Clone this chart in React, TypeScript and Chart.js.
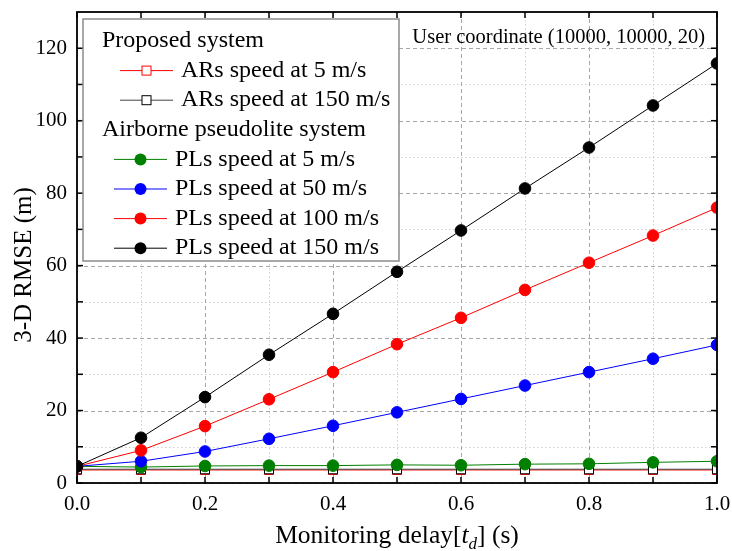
import React, { useEffect, useRef } from 'react';
import { Chart, registerables } from 'chart.js';

Chart.register(...registerables);

// ---- data ----
const delays = [0, 0.1, 0.2, 0.3, 0.4, 0.5, 0.6, 0.7, 0.8, 0.9, 1.0];
const arsSpeed5 = [3.6, 3.6, 3.6, 3.6, 3.6, 3.6, 3.6, 3.6, 3.6, 3.6, 3.6];
const arsSpeed150 = [3.8, 3.8, 3.8, 3.8, 3.8, 3.8, 3.8, 3.8, 3.8, 3.8, 3.8];
const plsSpeed5 = [4.6, 4.4, 4.7, 4.8, 4.8, 5.0, 4.9, 5.2, 5.3, 5.7, 6.0];
const plsSpeed50 = [4.6, 6.0, 8.7, 12.2, 15.8, 19.5, 23.2, 26.9, 30.6, 34.3, 38.1];
const plsSpeed100 = [4.6, 9.0, 15.7, 23.1, 30.6, 38.3, 45.6, 53.3, 60.8, 68.3, 76.0];
const plsSpeed150 = [4.6, 12.5, 23.7, 35.4, 46.7, 58.3, 69.7, 81.3, 92.6, 104.2, 115.8];

const xMajorTicks = [0, 0.2, 0.4, 0.6, 0.8, 1.0];
const xMinorTicks = [0.1, 0.3, 0.5, 0.7, 0.9];
const yMajorTicks = [0, 20, 40, 60, 80, 100, 120];
const yMinorTicks = [10, 30, 50, 70, 90, 110];

const xTitleParts = ['Monitoring delay[', 't', 'd', '] (s)'];
const yTitle = '3-D RMSE (m)';
const annotationText = 'User coordinate (10000, 10000, 20)';
const legendHeaderProposed = 'Proposed system';
const legendHeaderAirborne = 'Airborne pseudolite system';

const SERIF = '"Liberation Serif", "Times New Roman", serif';

type SeriesDef = { label: string; values: number[]; color: string; square: boolean; lineColor: string };

const seriesDefs: SeriesDef[] = [
  { label: 'ARs speed at 5 m/s', values: arsSpeed5, color: '#ff0000', lineColor: '#ff0000', square: true },
  { label: 'ARs speed at 150 m/s', values: arsSpeed150, color: '#000000', lineColor: '#444444', square: true },
  { label: 'PLs speed at 5 m/s', values: plsSpeed5, color: '#008000', lineColor: '#008000', square: false },
  { label: 'PLs speed at 50 m/s', values: plsSpeed50, color: '#0000ff', lineColor: '#0000ff', square: false },
  { label: 'PLs speed at 100 m/s', values: plsSpeed100, color: '#ff0000', lineColor: '#ff0000', square: false },
  { label: 'PLs speed at 150 m/s', values: plsSpeed150, color: '#000000', lineColor: '#000000', square: false },
];

function line(ctx: CanvasRenderingContext2D, x1: number, y1: number, x2: number, y2: number) {
  ctx.beginPath();
  ctx.moveTo(x1, y1);
  ctx.lineTo(x2, y2);
  ctx.stroke();
}

const decorPlugin = {
  id: 'decor',
  beforeDatasetsDraw(chart: any) {
    const { ctx, chartArea: a, scales } = chart;
    const x = scales.x;
    const y = scales.y;
    ctx.save();
    ctx.lineWidth = 1;
    // minor grid (dotted)
    ctx.strokeStyle = '#cfcfcf';
    ctx.setLineDash([1.5, 2.5]);
    for (const v of xMinorTicks) {
      const px = Math.round(x.getPixelForValue(v)) + 0.5;
      line(ctx, px, a.top, px, a.bottom);
    }
    for (const v of yMinorTicks) {
      const py = Math.round(y.getPixelForValue(v)) + 0.5;
      line(ctx, a.left, py, a.right, py);
    }
    // major grid (dashed)
    ctx.strokeStyle = '#a8a8a8';
    ctx.setLineDash([4, 3]);
    for (const v of xMajorTicks) {
      const px = Math.round(x.getPixelForValue(v)) + 0.5;
      line(ctx, px, a.top, px, a.bottom);
    }
    for (const v of yMajorTicks) {
      const py = Math.round(y.getPixelForValue(v)) + 0.5;
      line(ctx, a.left, py, a.right, py);
    }
    ctx.restore();
  },
  afterDatasetsDraw(chart: any) {
    const { ctx, chartArea: a, scales } = chart;
    const x = scales.x;
    const y = scales.y;
    ctx.save();
    // frame
    ctx.strokeStyle = '#000';
    ctx.lineWidth = 1.8;
    ctx.setLineDash([]);
    ctx.strokeRect(a.left, a.top, a.right - a.left, a.bottom - a.top);
    // ticks (inward, all sides)
    ctx.lineWidth = 1.5;
    const len = 6;
    for (const v of [...xMajorTicks, ...xMinorTicks]) {
      const px = x.getPixelForValue(v);
      line(ctx, px, a.bottom, px, a.bottom - len);
      line(ctx, px, a.top, px, a.top + len);
    }
    for (const v of [...yMajorTicks, ...yMinorTicks]) {
      const py = y.getPixelForValue(v);
      line(ctx, a.left, py, a.left + len, py);
      line(ctx, a.right, py, a.right - len, py);
    }

    // annotation
    ctx.fillStyle = '#000';
    ctx.font = `20.5px ${SERIF}`;
    ctx.textAlign = 'right';
    ctx.textBaseline = 'middle';
    ctx.fillText(annotationText, a.right - 12, a.top + 26);

    // legend box
    const bx = a.left + 6;
    const by = a.top + 7;
    const bw = 316;
    const bh = 242;
    ctx.fillStyle = '#fff';
    ctx.fillRect(bx, by, bw, bh);
    ctx.strokeStyle = '#8c8c8c';
    ctx.lineWidth = 1.5;
    ctx.strokeRect(bx, by, bw, bh);

    ctx.font = `24px ${SERIF}`;
    ctx.textAlign = 'left';
    ctx.textBaseline = 'middle';
    const rowY = (i: number) => by + 22 + i * 29.6;
    const drawHeader = (txt: string, i: number) => {
      ctx.fillStyle = '#000';
      ctx.fillText(txt, bx + 19, rowY(i));
    };
    drawHeader(legendHeaderProposed, 0);
    drawHeader(legendHeaderAirborne, 3);
    const rows = [1, 2, 4, 5, 6, 7];
    seriesDefs.forEach((s, k) => {
      const ry = rowY(rows[k]);
      const x0 = s.square ? bx + 37 : bx + 31;
      const x1 = x0 + 53;
      const cx = (x0 + x1) / 2;
      ctx.strokeStyle = s.lineColor;
      ctx.lineWidth = 1;
      line(ctx, x0, ry, x1, ry);
      if (s.square) {
        ctx.fillStyle = '#fff';
        ctx.fillRect(cx - 4.5, ry - 4.5, 9, 9);
        ctx.strokeStyle = s.color;
        ctx.strokeRect(cx - 4.5, ry - 4.5, 9, 9);
      } else {
        ctx.fillStyle = s.color;
        ctx.beginPath();
        ctx.arc(cx, ry, 6, 0, Math.PI * 2);
        ctx.fill();
      }
      ctx.fillStyle = '#000';
      ctx.fillText(s.label, x1 + 8, ry);
    });

    // y title
    ctx.save();
    ctx.font = `25px ${SERIF}`;
    ctx.fillStyle = '#000';
    ctx.textAlign = 'center';
    ctx.textBaseline = 'middle';
    ctx.translate(24, 265);
    ctx.rotate(-Math.PI / 2);
    ctx.fillText(yTitle, 0, 0);
    ctx.restore();

    // x title with italic t and subscript d
    const fN = `25.5px ${SERIF}`;
    const fI = `italic 25.5px ${SERIF}`;
    const fS = `italic 17px ${SERIF}`;
    ctx.textBaseline = 'alphabetic';
    ctx.textAlign = 'left';
    const parts = [
      { t: xTitleParts[0], f: fN, dy: 0 },
      { t: xTitleParts[1], f: fI, dy: 0 },
      { t: xTitleParts[2], f: fS, dy: 6 },
      { t: xTitleParts[3], f: fN, dy: 0 },
    ];
    let total = 0;
    for (const p of parts) {
      ctx.font = p.f;
      total += ctx.measureText(p.t).width;
    }
    let tx = (a.left + a.right) / 2 - total / 2;
    const baseY = 543;
    for (const p of parts) {
      ctx.font = p.f;
      ctx.fillText(p.t, tx, baseY + p.dy);
      tx += ctx.measureText(p.t).width;
    }
    ctx.restore();
  },
};

export default function App() {
  const ref = useRef<HTMLCanvasElement | null>(null);
  useEffect(() => {
    document.body.style.margin = '0';
    const canvas = ref.current;
    if (!canvas) return;
    const n = seriesDefs.length;
    const chart = new Chart(canvas, {
      type: 'line',
      data: {
        datasets: seriesDefs.map((s, i) => ({
          label: s.label,
          data: delays.map((d, j) => ({ x: d, y: s.values[j] })),
          borderColor: s.lineColor,
          borderWidth: 1,
          backgroundColor: s.square ? '#ffffff' : s.color,
          pointBackgroundColor: s.square ? '#ffffff' : s.color,
          pointBorderColor: s.color,
          pointBorderWidth: 1,
          pointStyle: s.square ? 'rect' : 'circle',
          pointRadius: s.square ? 6.4 : 5.8,
          pointHoverRadius: s.square ? 6.4 : 5.8,
          tension: 0,
          fill: false,
          order: n - i,
        })),
      },
      options: {
        responsive: false,
        animation: false,
        events: [],
        layout: { padding: { top: 12, right: 15, left: 0, bottom: 0 } },
        plugins: { legend: { display: false }, tooltip: { enabled: false }, title: { display: false } },
        scales: {
          x: {
            type: 'linear',
            min: 0,
            max: 1,
            grid: { display: false, drawTicks: false },
            border: { display: false },
            ticks: {
              stepSize: 0.2,
              padding: 9,
              color: '#000',
              font: { family: SERIF, size: 21 },
              maxRotation: 0,
              callback: (v: any) => Number(v).toFixed(1),
            },
            afterFit: (scale: any) => {
              scale.height = 68;
              scale.paddingLeft = 0;
              scale.paddingRight = 0;
            },
          },
          y: {
            type: 'linear',
            min: 0,
            max: 130,
            grid: { display: false, drawTicks: false },
            border: { display: false },
            ticks: {
              stepSize: 20,
              includeBounds: false,
              padding: 10,
              color: '#000',
              font: { family: SERIF, size: 21 },
              callback: (v: any) => (Number(v) % 20 === 0 ? String(v) : ''),
            },
            afterFit: (scale: any) => {
              scale.width = 77;
              scale.paddingTop = 0;
              scale.paddingBottom = 0;
            },
          },
        },
      },
      plugins: [decorPlugin],
    } as any);
    return () => chart.destroy();
  }, []);
  return (
    <div style={{ width: 732, height: 551 }}>
      <canvas ref={ref} width={732} height={551} style={{ display: 'block' }} />
    </div>
  );
}
